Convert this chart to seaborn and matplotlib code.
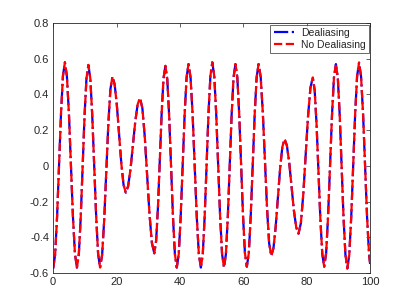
import numpy as np
import pandas as pd
import matplotlib
matplotlib.use('Agg')
import matplotlib.pyplot as plt
import seaborn as sns

# Points (extrema plus intermediate readings)
x_vals = [
    0.0, 0.62, 1.23, 1.85, 2.47, 3.08,
    3.7, 4.33, 4.97, 5.6, 6.23, 6.87,
    7.5, 8.1, 8.7, 9.3, 9.9, 10.5,
    11.1, 11.72, 12.33, 12.95, 13.57, 14.18,
    14.8, 15.45, 16.1, 16.75, 17.4, 18.05,
    18.7, 19.4, 20.1, 20.8, 21.5, 22.2,
    22.9, 23.65, 24.4, 25.15, 25.9, 26.65,
    27.4, 28.15, 28.9, 29.65, 30.4, 31.15,
    31.9, 32.48, 33.07, 33.65, 34.23, 34.82,
    35.4, 36.0, 36.6, 37.2, 37.8, 38.4,
    39.0, 39.62, 40.23, 40.85, 41.47, 42.08,
    42.7, 43.35, 44.0, 44.65, 45.3, 45.95,
    46.6, 47.2, 47.8, 48.4, 49.0, 49.6,
    50.2, 50.82, 51.43, 52.05, 52.67, 53.28,
    53.9, 54.5, 55.1, 55.7, 56.3, 56.9,
    57.5, 58.1, 58.7, 59.3, 59.9, 60.5,
    61.1, 61.72, 62.33, 62.95, 63.57, 64.18,
    64.8, 65.47, 66.13, 66.8, 67.47, 68.13,
    68.8, 69.5, 70.2, 70.9, 71.6, 72.3,
    73.0, 73.73, 74.47, 75.2, 75.93, 76.67,
    77.4, 78.15, 78.9, 79.65, 80.4, 81.15,
    81.9, 82.5, 83.1, 83.7, 84.3, 84.9,
    85.5, 86.12, 86.73, 87.35, 87.97, 88.58,
    89.2, 89.8, 90.4, 91.0, 91.6, 92.2,
    92.8, 93.42, 94.03, 94.65, 95.27, 95.88,
    96.5, 97.13, 97.77, 98.4, 99.03, 99.67, 100.0,
]
y_dealiasing = [
    -0.575, -0.498, -0.286, 0.003, 0.291, 0.503,
    0.58, 0.503, 0.293, 0.005, -0.283, -0.493,
    -0.57, -0.494, -0.286, -0.003, 0.281, 0.489,
    0.565, 0.489, 0.281, -0.003, -0.286, -0.494,
    -0.57, -0.498, -0.303, -0.035, 0.233, 0.428,
    0.50, 0.456, 0.338, 0.175, 0.013, -0.106,
    -0.15, -0.114, -0.018, 0.115, 0.248, 0.344,
    0.38, 0.322, 0.163, -0.055, -0.273, -0.432,
    -0.49, -0.42, -0.228, 0.035, 0.298, 0.49,
    0.56, 0.484, 0.278, -0.005, -0.288, -0.494,
    -0.57, -0.494, -0.285, 0.0, 0.285, 0.494,
    0.57, 0.494, 0.285, 0.0, -0.285, -0.494,
    -0.57, -0.493, -0.283, 0.005, 0.293, 0.503,
    0.58, 0.503, 0.293, 0.005, -0.283, -0.493,
    -0.57, -0.494, -0.285, 0.0, 0.285, 0.494,
    0.57, 0.494, 0.286, 0.003, -0.281, -0.489,
    -0.565, -0.489, -0.281, 0.003, 0.286, 0.494,
    0.57, 0.498, 0.301, 0.033, -0.236, -0.433,
    -0.505, -0.461, -0.341, -0.178, -0.014, 0.106,
    0.15, 0.114, 0.018, -0.115, -0.248, -0.344,
    -0.38, -0.321, -0.161, 0.058, 0.276, 0.436,
    0.495, 0.424, 0.23, -0.035, -0.3, -0.494,
    -0.565, -0.489, -0.281, 0.003, 0.286, 0.494,
    0.57, 0.493, 0.284, -0.003, -0.289, -0.498,
    -0.575, -0.498, -0.287, 0.002, 0.29, 0.501,
    0.578, 0.501, 0.29, 0.002, -0.287, -0.498, -0.55,
]
# the two runs overlap exactly in the picture
y_no_dealiasing = list(y_dealiasing)

x_ticks = [0, 20, 40, 60, 80, 100]
y_ticks = [-0.6, -0.4, -0.2, 0, 0.2, 0.4, 0.6, 0.8]
y_tick_labels = ['-0.6', '-0.4', '-0.2', '0', '0.2', '0.4', '0.6', '0.8']

sns.set_style('white')
plt.rcParams['font.family'] = ['Liberation Sans', 'DejaVu Sans']
plt.rcParams['xtick.direction'] = 'in'
plt.rcParams['ytick.direction'] = 'in'

fig = plt.figure(figsize=(4.09, 3.07), dpi=100)
ax = fig.add_axes([0.13, 0.111, 0.775, 0.814])

df = pd.DataFrame({'x': x_vals, 'y1': y_dealiasing, 'y2': y_no_dealiasing})
sns.lineplot(data=df, x='x', y='y1', ax=ax, color='#0000ff', lw=1.6,
             linestyle='-.', label='Dealiasing', sort=False)
sns.lineplot(data=df, x='x', y='y2', ax=ax, color='#ff0000', lw=1.6,
             linestyle='--', label='No Dealiasing', sort=False)

ax.set_xlim(0, 100)
ax.set_ylim(-0.6, 0.8)
ax.set_xticks(x_ticks)
ax.set_yticks(y_ticks)
ax.set_yticklabels(y_tick_labels)
ax.set_xlabel('')
ax.set_ylabel('')
ax.tick_params(labelsize=8, colors='#262626', length=3, width=0.5,
               top=True, right=True, pad=3)
for s in ax.spines.values():
    s.set_visible(True)
    s.set_color('#262626')
    s.set_linewidth(0.6)

leg = ax.legend(loc='upper right', fontsize=7.5, frameon=True, fancybox=False,
                borderpad=0.3, handlelength=2.2, handletextpad=0.4,
                labelspacing=0.2, borderaxespad=0.15)
leg.get_frame().set_edgecolor('#262626')
leg.get_frame().set_linewidth(0.6)

fig.savefig('out.png', dpi=100)
